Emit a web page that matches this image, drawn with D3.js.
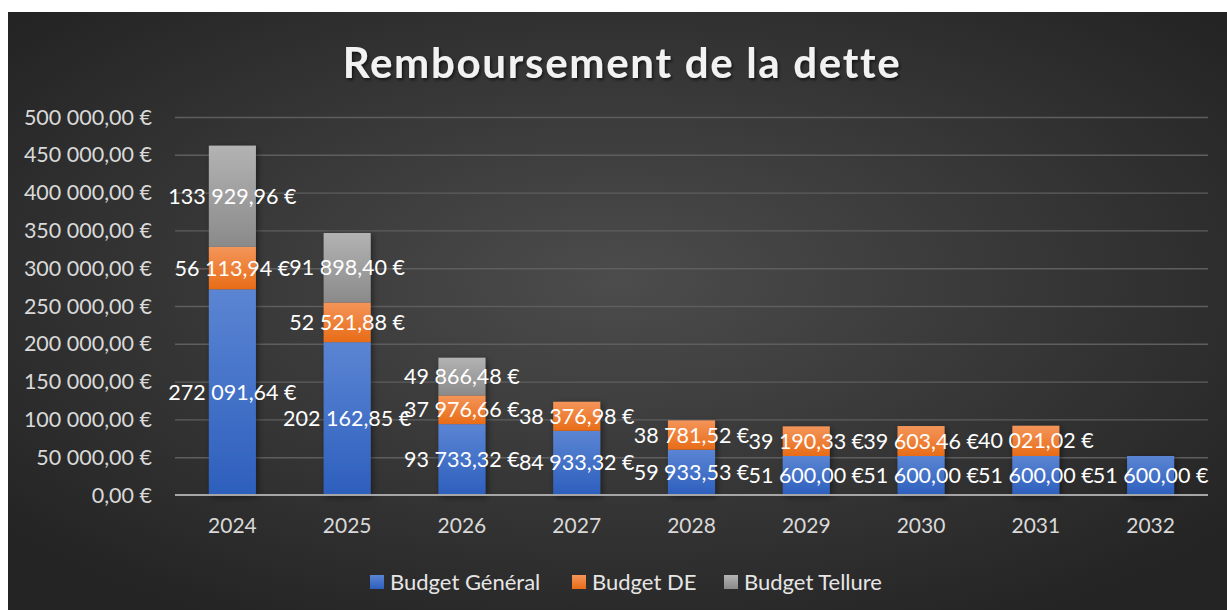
<!DOCTYPE html>
<html><head><meta charset="utf-8">
<script src="https://cdn.jsdelivr.net/npm/d3@7"></script>
<style>html,body{margin:0;padding:0;background:#fff;}svg{display:block;}</style>
</head><body>
<svg id="chart" width="1227" height="610"></svg>
<script>
const years = ["2024","2025","2026","2027","2028","2029","2030","2031","2032"];
const budgetGeneral = [272091.64, 202162.85, 93733.32, 84933.32, 59933.53, 51600.00, 51600.00, 51600.00, 51600.00];
const budgetDE = [56113.94, 52521.88, 37976.66, 38376.98, 38781.52, 39190.33, 39603.46, 40021.02, null];
const budgetTellure = [133929.96, 91898.40, 49866.48, null, null, null, null, null, null];
const seriesNames = ["Budget Général", "Budget DE", "Budget Tellure"];
const yTicks = [0, 50000, 100000, 150000, 200000, 250000, 300000, 350000, 400000, 450000, 500000];
const title = "Remboursement de la dette";

const W = 1227, H = 610;
const svg = d3.select("#chart");
const defs = svg.append("defs");

// background gradient
const bg = defs.append("radialGradient").attr("id","bg").attr("cx","50%").attr("cy","45%").attr("r","65%");
bg.append("stop").attr("offset","0%").attr("stop-color","#4c4c4c");
bg.append("stop").attr("offset","100%").attr("stop-color","#242424");

const grads = [
  {id:"gBlue", top:"#5b85d3", bot:"#2d5fbd"},
  {id:"gOrange", top:"#f4955a", bot:"#e86c17"},
  {id:"gGrey", top:"#b3b3b3", bot:"#8a8a8a"}
];
grads.forEach(g => {
  const lg = defs.append("linearGradient").attr("id", g.id).attr("x1","0").attr("y1","0").attr("x2","0").attr("y2","1");
  lg.append("stop").attr("offset","0%").attr("stop-color", g.top);
  lg.append("stop").attr("offset","100%").attr("stop-color", g.bot);
});
const sh = defs.append("filter").attr("id","shadow").attr("x","-30%").attr("y","-30%").attr("width","160%").attr("height","160%");
sh.append("feDropShadow").attr("dx",2).attr("dy",2).attr("stdDeviation",3).attr("flood-color","#000").attr("flood-opacity",0.45);
const tsh = defs.append("filter").attr("id","tshadow").attr("x","-10%").attr("y","-30%").attr("width","120%").attr("height","160%");
tsh.append("feDropShadow").attr("dx",1.5).attr("dy",2).attr("stdDeviation",1.5).attr("flood-color","#000").attr("flood-opacity",0.6);

svg.append("rect").attr("x",8).attr("y",12).attr("width",W-8).attr("height",H-12).attr("fill","url(#bg)");

const FONT = "Lato, 'Open Sans', sans-serif";

const x = d3.scaleBand().domain(years).range([175, 1208]).padding(0);
const y = d3.scaleLinear().domain([0, 500000]).range([495, 117]);
const barW = x.bandwidth() * 0.41;

// gridlines
const gAxis = svg.append("g").attr("transform", "translate(175,0)")
  .call(d3.axisLeft(y).tickValues(yTicks).tickSize(-(1208-175)).tickFormat(""));
gAxis.select(".domain").remove();
gAxis.selectAll(".tick line").attr("stroke","#5e5e5e").attr("stroke-width",1.4)
  .filter(d => d === 0).attr("stroke","none");

const locale = d3.formatLocale({decimal: ",", thousands: " ", grouping: [3], currency: ["", " €"]});
const fmt = locale.format("$,.2f");

// tick labels
svg.append("g").selectAll("text").data(yTicks).join("text")
  .attr("x", 152).attr("y", d => y(d) + 7.5)
  .attr("text-anchor","end").attr("font-family",FONT).attr("font-size",21.5)
  .attr("fill","#d9d9d9").text(d => fmt(d));

// stack
const rows = years.map((yr,i) => ({year: yr, g: budgetGeneral[i] || 0, d: budgetDE[i] || 0, t: budgetTellure[i] || 0}));
const stack = d3.stack().keys(["g","d","t"])(rows);
const fills = ["url(#gBlue)","url(#gOrange)","url(#gGrey)"];

const barsG = svg.append("g").attr("filter","url(#shadow)");
stack.forEach((layer, li) => {
  barsG.append("g").selectAll("rect").data(layer.filter(s => s[1] - s[0] > 0)).join("rect")
    .attr("x", s => x(s.data.year) + (x.bandwidth() - barW)/2)
    .attr("width", barW)
    .attr("y", s => y(s[1]))
    .attr("height", s => y(s[0]) - y(s[1]))
    .attr("fill", fills[li]);
});

// axis line
svg.append("line").attr("x1",175).attr("x2",1208).attr("y1",y(0)).attr("y2",y(0))
  .attr("stroke","#a6a6a6").attr("stroke-width",2.2);

// data labels
const labG = svg.append("g");
stack.forEach((layer) => {
  labG.append("g").selectAll("text").data(layer.filter(s => s[1] - s[0] > 0)).join("text")
    .attr("x", s => x(s.data.year) + x.bandwidth()/2)
    .attr("y", s => (y(s[0]) + y(s[1]))/2 + 7.5)
    .attr("text-anchor","middle").attr("font-family",FONT).attr("font-size",21.5)
    .attr("fill","#ffffff").text(s => fmt(s[1]-s[0]));
});

// category labels
svg.append("g").selectAll("text").data(years).join("text")
  .attr("x", d => x(d) + x.bandwidth()/2).attr("y", 533)
  .attr("text-anchor","middle").attr("font-family",FONT).attr("font-size",21)
  .attr("fill","#d9d9d9").text(d => d);

// title
svg.append("text").attr("x", 622).attr("y", 78).attr("text-anchor","middle")
  .attr("font-family",FONT).attr("font-weight","bold").attr("font-size",42)
  .attr("letter-spacing", 1.7).attr("fill","#f2f2f2").attr("filter","url(#tshadow)")
  .text(title);

// legend
const legX = [370, 572, 724];
const legFills = ["url(#gBlue)","url(#gOrange)","url(#gGrey)"];
const leg = svg.append("g").selectAll("g").data(seriesNames).join("g")
  .attr("transform", (d,i) => `translate(${legX[i]},0)`);
leg.append("rect").attr("x",0).attr("y",575).attr("width",14).attr("height",14).attr("fill",(d,i)=>legFills[i]);
leg.append("text").attr("x",20).attr("y",590).attr("font-family",FONT).attr("font-size",22)
  .attr("fill","#e6e6e6").text(d => d);
</script>
</body></html>
